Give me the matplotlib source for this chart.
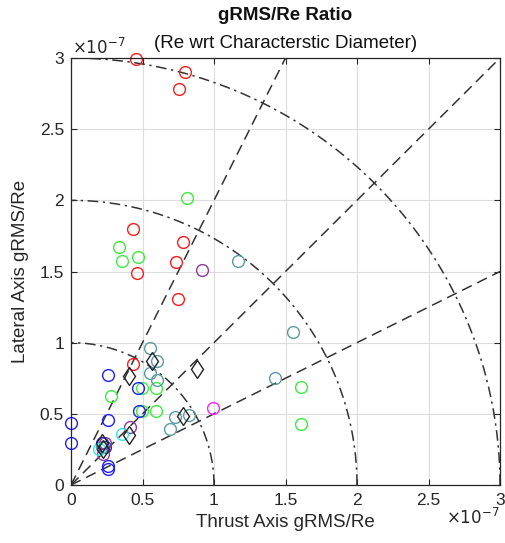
import numpy as np
import matplotlib
matplotlib.use("Agg")
import matplotlib.pyplot as plt

plt.rcParams['font.family'] = ['Liberation Sans', 'DejaVu Sans']

# values in units of 1e-7
red_x = [0.455, 0.80, 0.755, 0.436, 0.785, 0.734, 0.464, 0.748, 0.436]
red_y = [2.99, 2.90, 2.78, 1.80, 1.71, 1.57, 1.49, 1.305, 0.853]

green_x = [0.81, 0.333, 0.47, 0.36, 0.494, 0.594, 0.28, 0.494, 0.594, 1.608, 1.608]
green_y = [2.015, 1.67, 1.605, 1.575, 0.682, 0.682, 0.626, 0.519, 0.519, 0.689, 0.427]

blue_x = [0.0, 0.0, 0.257, 0.471, 0.476, 0.257, 0.219, 0.235, 0.257, 0.257]
blue_y = [0.437, 0.296, 0.771, 0.682, 0.519, 0.46, 0.296, 0.27, 0.135, 0.112]

teal_x = [1.168, 1.55, 1.43, 0.552, 0.60, 0.552, 0.60, 0.727, 0.827, 0.69, 0.219]
teal_y = [1.577, 1.072, 0.75, 0.962, 0.869, 0.787, 0.736, 0.479, 0.49, 0.39, 0.27]

diamond_x = [0.564, 0.408, 0.883, 0.785, 0.408, 0.215, 0.225]
diamond_y = [0.871, 0.764, 0.818, 0.484, 0.35, 0.292, 0.25]

magenta_x = [0.99]
magenta_y = [0.544]

purple_x = [0.918, 0.41, 0.238, 0.222]
purple_y = [1.51, 0.41, 0.292, 0.215]

cyan_x = [0.359, 0.198]
cyan_y = [0.355, 0.25]

radii = [1, 2, 3]
ray_slopes = [2.0, 1.0, 0.5]
ticks = [0, 0.5, 1, 1.5, 2, 2.5, 3]
tick_labels = ['0', '0.5', '1', '1.5', '2', '2.5', '3']

fig = plt.figure(figsize=(5.05, 5.43), dpi=100)
ax = fig.add_axes([71/505, 1-485/543, 429/505, 427/543])

ax.grid(True, color='#dcdcdc', linewidth=0.8)
ax.set_axisbelow(True)

refc = '#333333'
th = np.linspace(0, np.pi/2, 300)
for r in radii:
    ax.plot(r*np.cos(th), r*np.sin(th), color=refc, lw=1.1, linestyle=(0, (7, 3, 1.5, 3)))
for s in ray_slopes:
    xe = min(3, 3/s)
    ax.plot([0, xe], [0, s*xe], color=refc, lw=1.1, linestyle=(0, (7, 4)))

ms = 8.5
mk = dict(linestyle='none', marker='o', markersize=ms, markerfacecolor='none',
          markeredgewidth=1.0, clip_on=False)
ax.plot(red_x, red_y, markeredgecolor='#ff1a1a', **mk)
ax.plot(green_x, green_y, markeredgecolor='#3ded3d', **mk)
ax.plot(blue_x, blue_y, markeredgecolor='#2020ee', **mk)
ax.plot(teal_x, teal_y, markeredgecolor='#5a9aa5', **mk)
ax.plot(magenta_x, magenta_y, markeredgecolor='#ff20ff', **mk)
ax.plot(purple_x, purple_y, markeredgecolor='#8a3a98', **mk)
ax.plot(cyan_x, cyan_y, markeredgecolor='#30e8e8', **mk)
ax.plot(diamond_x, diamond_y, linestyle='none', marker='d', markersize=9.5,
        markerfacecolor='none', markeredgecolor='#222222', markeredgewidth=1.0, clip_on=False)

ax.set_xlim(0, 3)
ax.set_ylim(0, 3)
ax.set_xticks(ticks)
ax.set_yticks(ticks)
ax.set_xticklabels(tick_labels)
ax.set_yticklabels(tick_labels)
ax.tick_params(direction='in', top=True, right=True, labelsize=12.5, length=4,
               color='#262626', labelcolor='#262626')
for sp in ax.spines.values():
    sp.set_color('#262626')
    sp.set_linewidth(0.9)
ax.tick_params(axis='x', pad=6)
ax.tick_params(axis='y', pad=5)

ax.set_xlabel('Thrust Axis gRMS/Re', fontsize=13.5, color='#262626', labelpad=4)
ax.set_ylabel('Lateral Axis gRMS/Re', fontsize=13.5, color='#262626', labelpad=8)

fig.text(285.5/505, 1-15/543, 'gRMS/Re Ratio', ha='center', va='center',
         fontsize=13.5, fontweight='bold', color='#111111')
fig.text(285.5/505, 1-43/543, '(Re wrt Characterstic Diameter)', ha='center', va='center',
         fontsize=13.5, color='#111111')
fig.text(72/505, 1-47/543, r'$\times10^{-7}$', ha='left', va='center', fontsize=12,
         color='#262626', math_fontfamily='dejavusans')
fig.text(500/505, 1-517/543, r'$\times10^{-7}$', ha='right', va='center', fontsize=12,
         color='#262626', math_fontfamily='dejavusans')

fig.savefig('out.png', dpi=100)
